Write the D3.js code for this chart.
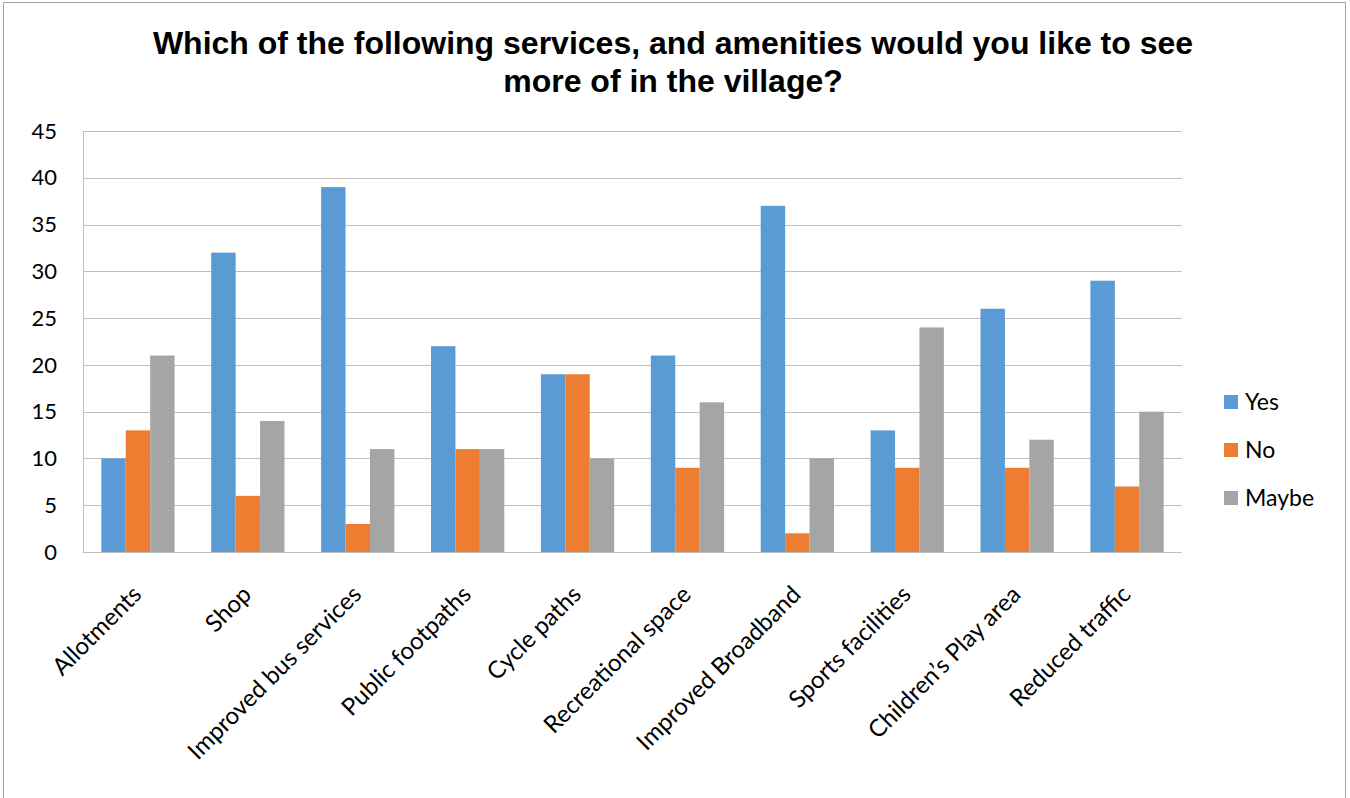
<!DOCTYPE html>
<html><head><meta charset="utf-8">
<script src="https://cdn.jsdelivr.net/npm/d3@7"></script>
<style>html,body{margin:0;padding:0;background:#fff;}svg{display:block;}</style>
</head><body>
<svg id="chart" width="1350" height="798"></svg>
<script>
const categories = ["Allotments","Shop","Improved bus services","Public footpaths","Cycle paths","Recreational space","Improved Broadband","Sports facilities","Children’s Play area","Reduced traffic"];
const seriesNames = ["Yes","No","Maybe"];
const yesValues = [10,32,39,22,19,21,37,13,26,29];
const noValues = [13,6,3,11,19,9,2,9,9,7];
const maybeValues = [21,14,11,11,10,16,10,24,12,15];
const yTicks = [0,5,10,15,20,25,30,35,40,45];
const colors = ["#5b9bd5","#ed7d31","#a5a5a5"];
const titleLines = ["Which of the following services, and amenities would you like to see","more of in the village?"];

const svg = d3.select("#chart");
const W = 1350, H = 798;
svg.append("rect").attr("x",3.5).attr("y",2.5).attr("width",1342).attr("height",810).attr("fill","#fff").attr("stroke","#a6a6a6").attr("stroke-width",1);

const m = {left:83, right:1182, top:131, bottom:552};
const x0 = d3.scaleBand().domain(categories).range([m.left,m.right]).paddingInner(0).paddingOuter(0);
const bandW = x0.bandwidth();
const barW = bandW/(3+1.5);
const y = d3.scaleLinear().domain([0,45]).range([m.bottom,m.top]);

const tFont = "'Liberation Sans', Arial, sans-serif";
const font = "Lato, 'Open Sans', sans-serif";

svg.append("g").selectAll("text").data(titleLines).join("text")
  .attr("x",673).attr("y",(d,i)=>54+i*38)
  .attr("text-anchor","middle").attr("font-family",tFont).attr("font-weight","bold").attr("font-size",32).attr("fill","#000")
  .text(d=>d);

// gridlines
svg.append("g").selectAll("line").data(yTicks.filter(t=>t>0)).join("line")
  .attr("x1",m.left).attr("x2",m.right).attr("y1",d=>Math.round(y(d))+0.5).attr("y2",d=>Math.round(y(d))+0.5)
  .attr("stroke","#bfbfbf").attr("stroke-width",1);
svg.append("line").attr("x1",m.left+0.5).attr("x2",m.left+0.5).attr("y1",m.top).attr("y2",m.bottom).attr("stroke","#bfbfbf");

// y tick labels
svg.append("g").selectAll("text").data(yTicks).join("text")
  .attr("x",57).attr("y",d=>y(d)).attr("dy","0.35em").attr("text-anchor","end")
  .attr("font-family",font).attr("font-size",22).attr("fill","#000").text(d=>d);

const seriesVals = [yesValues,noValues,maybeValues];
seriesVals.forEach((vals,si)=>{
  svg.append("g").selectAll("rect").data(categories).join("rect")
    .attr("x",(c)=>x0(c)+barW*0.75+si*barW)
    .attr("y",(c,i)=>y(vals[i]))
    .attr("width",barW)
    .attr("height",(c,i)=>y(0)-y(vals[i]))
    .attr("fill",colors[si]);
});

svg.append("line").attr("x1",m.left).attr("x2",m.right).attr("y1",Math.round(y(0))+0.5).attr("y2",Math.round(y(0))+0.5).attr("stroke","#bfbfbf");

// x labels
svg.append("g").selectAll("text").data(categories).join("text")
  .attr("transform",c=>`translate(${x0(c)+bandW/2+5},${m.bottom+44}) rotate(-45)`)
  .attr("text-anchor","end")
  .attr("font-family",font).attr("font-size",24).attr("fill","#000").text(c=>c);

// legend
const lg = svg.append("g");
seriesNames.forEach((n,i)=>{
  const cy = 402+i*48;
  lg.append("rect").attr("x",1224).attr("y",cy-7).attr("width",14).attr("height",14).attr("fill",colors[i]);
  lg.append("text").attr("x",1245).attr("y",cy).attr("dy","0.35em").attr("font-family",font).attr("font-size",23).attr("fill","#000").text(n);
});
</script>
</body></html>
